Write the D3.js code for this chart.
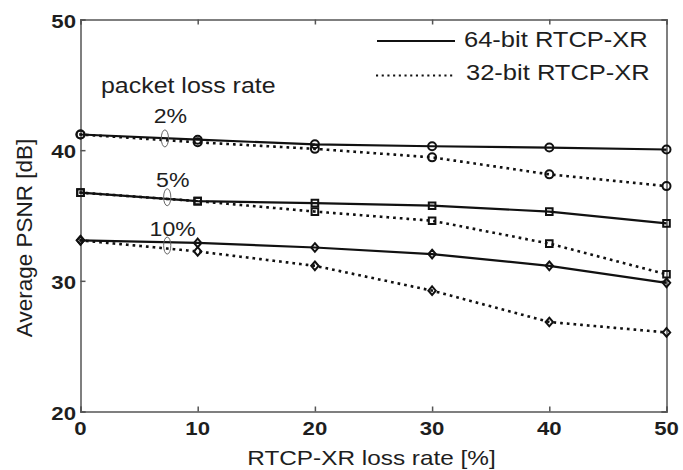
<!DOCTYPE html>
<html>
<head>
<meta charset="utf-8">
<script src="https://cdn.jsdelivr.net/npm/d3@7"></script>
<style>
  body { margin: 0; background: #fff; }
  text { font-family: "Liberation Sans", Arial, sans-serif; fill: #1e1e1e; }
</style>
</head>
<body>
<svg id="chart" width="683" height="470"></svg>
<script>
const lossRates = [0, 10, 20, 30, 40, 50]
const xTicks = [0, 10, 20, 30, 40, 50]
const yTicks = [20, 30, 40, 50]

// 64-bit RTCP-XR
const psnr64_2 = [41.2, 40.8, 40.45, 40.3, 40.2, 40.05]
const psnr64_5 = [36.75, 36.1, 35.95, 35.75, 35.3, 34.4]
const psnr64_10 = [33.1, 32.9, 32.55, 32.05, 31.15, 29.85]
// 32-bit RTCP-XR
const psnr32_2 = [41.2, 40.6, 40.1, 39.45, 38.15, 37.25]
const psnr32_5 = [36.75, 36.1, 35.3, 34.6, 32.85, 30.5]
const psnr32_10 = [33.1, 32.25, 31.15, 29.25, 26.85, 26.05]

const series = [
    {vals: psnr64_2, dotted: false, mark: "circle"},
    {vals: psnr32_2, dotted: true, mark: "circle"},
    {vals: psnr64_5, dotted: false, mark: "square"},
    {vals: psnr32_5, dotted: true, mark: "square"},
    {vals: psnr64_10, dotted: false, mark: "diamond"},
    {vals: psnr32_10, dotted: true, mark: "diamond"}
]

const groupLabels = [
    {text: "2%", at: 7.2, y: 42.1, ringY: 40.9},
    {text: "5%", at: 7.4, y: 37.2, ringY: 36.4},
    {text: "10%", at: 7.4, y: 33.45, ringY: 32.7}
]

const svg = d3.select("#chart")
const mLeft = 80.5, mRight = 666.5, mTop = 19.5, mBottom = 411.5

const x = d3.scaleLinear().domain([0, 50]).range([mLeft, mRight])
const y = d3.scaleLinear().domain([20, 50]).range([mBottom, mTop])

const axisColor = "#555"
const stretch = 1.16  // glyphs in the picture are a bit wide

// text helper, horizontally stretched
function label(g, tx, ty, str, size, opts = {}) {
    return g.append("text")
        .attr("transform", `translate(${tx},${ty}) scale(${opts.sx || stretch},1)`)
        .attr("text-anchor", opts.anchor || "start")
        .attr("font-size", size)
        .attr("font-weight", opts.bold ? "bold" : null)
        .text(str)
}

// box with inward ticks
const ax = svg.append("g")
ax.append("g").attr("transform", `translate(0,${mBottom})`)
    .call(d3.axisTop(x).tickValues(xTicks).tickSize(5).tickFormat(""))
ax.append("g").attr("transform", `translate(0,${mTop})`)
    .call(d3.axisBottom(x).tickValues(xTicks).tickSize(5).tickFormat(""))
ax.append("g").attr("transform", `translate(${mLeft},0)`)
    .call(d3.axisRight(y).tickValues(yTicks).tickSize(5).tickFormat(""))
ax.append("g").attr("transform", `translate(${mRight},0)`)
    .call(d3.axisLeft(y).tickValues(yTicks).tickSize(5).tickFormat(""))
ax.selectAll("path, line").attr("stroke", axisColor).attr("stroke-width", 1.5)

// tick labels
const tl = svg.append("g")
xTicks.forEach(d => label(tl, x(d), 434.5, d, 18.5, {anchor: "middle", bold: true, sx: 1.2}))
yTicks.forEach(d => label(tl, 76, y(d) + 8, d, 18.5, {anchor: "end", bold: true, sx: 1.2}))

// axis titles
label(svg, (mLeft + mRight) / 2 - 2, 465, "RTCP-XR loss rate [%]", 21, {anchor: "middle"})
svg.append("text")
    .attr("transform", `translate(32,238) rotate(-90)`)
    .attr("text-anchor", "middle").attr("font-size", 22.5)
    .text("Average PSNR [dB]")

// lines
const line = d3.line().x((d, i) => x(lossRates[i])).y(d => y(d))

series.forEach(s => {
    svg.append("path").datum(s.vals)
        .attr("d", line)
        .attr("fill", "none").attr("stroke", "#111")
        .attr("stroke-width", s.dotted ? 2.6 : 2.2)
        .attr("stroke-dasharray", s.dotted ? "0.1,6.6" : null)
        .attr("stroke-linecap", s.dotted ? "square" : "butt")
})

// markers
const markPath = {
    circle: "M4,0A4,4 0 1,1 -4,0A4,4 0 1,1 4,0Z",
    square: "M-3.3,-3.3H3.3V3.3H-3.3Z",
    diamond: "M0,-4.3L3.7,0L0,4.3L-3.7,0Z"
}
series.forEach(s => {
    svg.append("g").selectAll("path").data(s.vals).join("path")
        .attr("transform", (d, i) => `translate(${x(lossRates[i])},${y(d)})`)
        .attr("d", markPath[s.mark])
        .attr("fill", "none").attr("stroke", "#111").attr("stroke-width", 2)
})

// group labels with rings
label(svg, 101, 93, "packet loss rate", 21.5)
groupLabels.forEach(g => {
    label(svg, x(g.at) + 5.5, y(g.y), g.text, 21, {anchor: "middle", sx: 1.1})
    svg.append("ellipse")
        .attr("cx", x(g.at)).attr("cy", y(g.ringY))
        .attr("rx", 3.6).attr("ry", 8.5)
        .attr("fill", "none").attr("stroke", "#666").attr("stroke-width", 1)
})

// legend
const legend = [
    {text: "64-bit RTCP-XR", dotted: false, ly: 41, by: 47.3},
    {text: "32-bit RTCP-XR", dotted: true, ly: 75.5, by: 80}
]
legend.forEach(l => {
    svg.append("line").attr("x1", 377).attr("x2", 455)
        .attr("y1", l.ly).attr("y2", l.ly)
        .attr("stroke", "#111")
        .attr("stroke-width", 2)
        .attr("stroke-dasharray", l.dotted ? "0.1,5.6" : null)
        .attr("stroke-linecap", l.dotted ? "square" : "butt")
    label(svg, l.dotted ? 466 : 464, l.by, l.text, 22)
})
</script>
</body>
</html>
